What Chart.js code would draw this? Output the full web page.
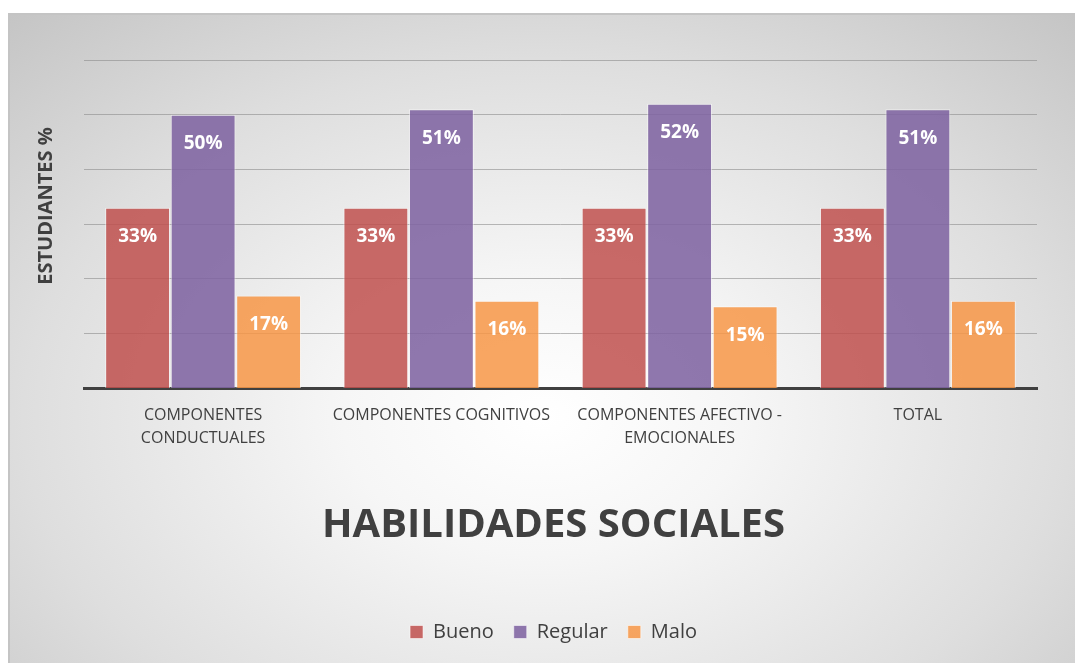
<!DOCTYPE html>
<html>
<head>
<meta charset="utf-8">
<script src="https://cdn.jsdelivr.net/npm/chart.js@4.4.1/dist/chart.umd.min.js"></script>
<style>
  html, body { margin: 0; padding: 0; background: #ffffff; }
  #bg {
    position: absolute; left: 8px; top: 13px; width: 1067px; height: 650px;
    border-top: 2px solid #c4c4c4; border-left: 2px solid #c4c4c4; box-sizing: border-box;
    background: radial-gradient(ellipse 75% 85% at 50% 62%, #ffffff 0%, #f6f6f6 25%, #dedede 65%, #c4c4c4 100%);
  }
  #wrap { position: absolute; left: 0; top: 0; width: 1075px; height: 663px; }
</style>
</head>
<body>
<div id="bg"></div>
<div id="wrap"><canvas id="c" width="1075" height="663"></canvas></div>
<script>
const categories = [
  ['COMPONENTES', 'CONDUCTUALES'],
  'COMPONENTES COGNITIVOS',
  ['COMPONENTES AFECTIVO -', 'EMOCIONALES'],
  'TOTAL'
];
const seriesNames = ['Bueno', 'Regular', 'Malo'];
const bueno = [33, 33, 33, 33];
const regular = [50, 51, 52, 51];
const malo = [17, 16, 15, 16];
const chartTitle = 'HABILIDADES SOCIALES';
const yTitle = 'ESTUDIANTES %';

const FONT = "'Open Sans', 'DejaVu Sans', sans-serif";

const valueLabels = {
  id: 'valueLabels',
  afterDatasetsDraw(chart) {
    const ctx = chart.ctx;
    ctx.save();
    ctx.fillStyle = '#ffffff';
    ctx.font = 'bold 19px ' + FONT;
    ctx.textAlign = 'center';
    ctx.textBaseline = 'middle';
    chart.data.datasets.forEach((ds, i) => {
      const meta = chart.getDatasetMeta(i);
      meta.data.forEach((bar, j) => {
        ctx.fillText(ds.data[j] + '%', bar.x, bar.y + 29);
      });
    });
    ctx.restore();
  }
};

const yTitlePlugin = {
  id: 'yTitlePlugin',
  afterDraw(chart) {
    const ctx = chart.ctx;
    ctx.save();
    ctx.translate(46, 206);
    ctx.rotate(-Math.PI / 2);
    ctx.fillStyle = '#404040';
    ctx.font = 'bold 20px ' + FONT;
    ctx.textAlign = 'center';
    ctx.textBaseline = 'middle';
    ctx.fillText(yTitle, 0, 0);
    ctx.restore();
  }
};

Chart.defaults.font.family = FONT;
Chart.defaults.color = '#404040';

new Chart(document.getElementById('c'), {
  type: 'bar',
  data: {
    labels: categories,
    datasets: [
      { label: seriesNames[0], data: bueno, backgroundColor: 'rgba(192,80,77,0.85)' },
      { label: seriesNames[1], data: regular, backgroundColor: 'rgba(128,100,162,0.88)' },
      { label: seriesNames[2], data: malo, backgroundColor: 'rgba(247,150,70,0.85)' }
    ].map(d => Object.assign(d, {
      borderColor: 'rgba(255,255,255,0.55)', borderWidth: 1,
      categoryPercentage: 0.825, barPercentage: 0.99
    }))
  },
  options: {
    responsive: false,
    animation: false,
    layout: { padding: { left: 70, right: 38, top: 60, bottom: 11 } },
    scales: {
      x: {
        grid: { display: false, drawTicks: false },
        border: { display: true, color: '#404040', width: 3 },
        ticks: { padding: 15, font: { size: 16, lineHeight: 1.47 }, color: '#404040', autoSkip: false, maxRotation: 0 }
      },
      y: {
        min: 0, max: 60,
        ticks: { display: false, stepSize: 10 },
        grid: { color: 'rgba(140,140,140,0.6)', lineWidth: 1, drawTicks: false },
        border: { display: false },
        afterFit(scale) { scale.width = 14; }
      }
    },
    plugins: {
      legend: {
        position: 'bottom',
        labels: { font: { size: 20 }, color: '#404040', boxWidth: 13, boxHeight: 13, padding: 20 }
      },
      title: {
        display: true, text: chartTitle, position: 'bottom', weight: 500,
        font: { size: 40, weight: 'bold' }, color: '#404040',
        padding: { top: 36, bottom: 52.5 }
      },
      tooltip: { enabled: false }
    }
  },
  plugins: [valueLabels, yTitlePlugin]
});
</script>
</body>
</html>
